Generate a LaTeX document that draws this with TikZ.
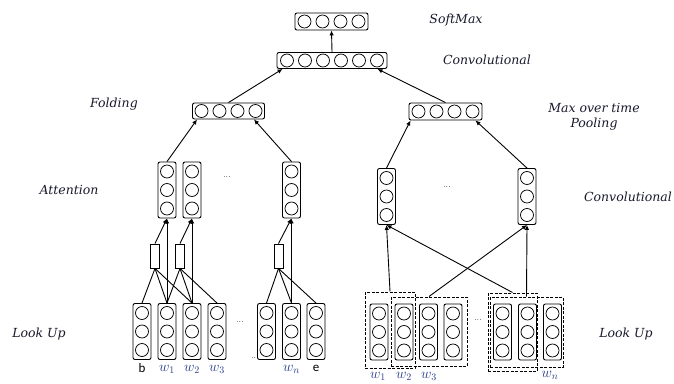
\documentclass[tikz,border=0pt]{standalone}
\usepackage{fontspec}
\usetikzlibrary{arrows.meta}
\newfontfamily\labfont{DejaVu Serif}
\newfontfamily\carlito{Carlito}
\definecolor{labcol}{RGB}{25,25,45}
\definecolor{wcol}{RGB}{35,55,135}
\begin{document}
\begin{tikzpicture}[x=1pt,y=-1pt, line width=0.9pt,
  vvec/.style={draw, rounded corners=2pt, minimum width=18pt, minimum height=56pt, inner sep=0pt,
    path picture={\foreach \k in {-1,0,1}{\draw[line width=0.75pt] ([yshift=\k*18.5pt]path picture bounding box.center) circle (6.5pt);}}},
  hvec/.style={draw, rounded corners=2pt, minimum height=16pt, inner sep=0pt,
    path picture={\foreach \k in {1,...,#1}{\draw[line width=0.75pt] ([xshift=(\k-(#1+1)/2)*18pt]path picture bounding box.center) circle (6.5pt);}}},
  att/.style={draw, minimum width=9pt, minimum height=24pt, inner sep=0pt},
  dbox/.style={draw, dash pattern=on 3pt off 1.5pt, line width=1pt, inner sep=0pt},
  lab/.style={font=\labfont\itshape\fontsize{12.5}{15}\selectfont, text=labcol, inner sep=0pt, align=center},
  wl/.style={text=wcol, inner sep=0pt, font=\fontsize{14}{16}\selectfont},
  sl/.style={inner sep=0pt, font=\carlito\fontsize{13}{15}\selectfont},
  dots/.style={inner sep=0pt, font=\small},
  arr/.style={-{Latex[length=5pt,width=4.5pt]}},
]
\useasboundingbox (0,0) rectangle (674,383);
% top
\node[hvec=4, minimum width=73pt, minimum height=17pt] (sm) at (331.5,21.5) {};
\node[hvec=6, minimum width=110pt] (cv) at (332,60.5) {};
\node[hvec=4, minimum width=72pt] (fd) at (228.5,111) {};
\node[hvec=4, minimum width=73pt, minimum height=17pt] (mp) at (445.5,111.5) {};
% attention vectors
\node[vvec] (a1) at (167,190) {};
\node[vvec] (a2) at (192,190) {};
\node[vvec] (an) at (291.5,190) {};
\node[att] (r1) at (155,256) {};
\node[att] (r2) at (180,256) {};
\node[att] (rn) at (278.5,256) {};
% left lookups
\node[vvec] (lb) at (142,331.5) {};
\node[vvec] (l1) at (167,331.5) {};
\node[vvec] (l2) at (192,331.5) {};
\node[vvec] (l3) at (217,331.5) {};
\node[vvec] (lm) at (266.5,331.5) {};
\node[vvec] (ln) at (291.5,331.5) {};
\node[vvec] (le) at (316,331.5) {};
% right conv
\node[vvec] (c1) at (386.5,196.5) {};
\node[vvec] (c2) at (527,196.5) {};
% right lookups
\node[vvec] (q1) at (379,332) {};
\node[vvec] (q2) at (404,332) {};
\node[vvec] (q3) at (428.5,332) {};
\node[vvec] (q4) at (453,332) {};
\node[vvec] (q5) at (502.5,332) {};
\node[vvec] (q6) at (527.5,332) {};
\node[vvec] (q7) at (552.5,332) {};
% dashed windows
\node[dbox, minimum width=50pt, minimum height=76pt] (d1) at (390,330) {};
\node[dbox, minimum width=76pt, minimum height=69pt] (d2) at (429,331.5) {};
\node[dbox, minimum width=49pt, minimum height=78pt] (d3) at (512.5,332) {};
\node[dbox, minimum width=73pt, minimum height=70pt] (d4) at (526.5,332) {};
% top connectors
\draw[arr] (cv.north) -- (sm.south);
\draw[arr] (fd.north) -- ([xshift=6pt]cv.south west);
\draw[arr] (mp.north) -- ([xshift=-10pt]cv.south east);
\draw[arr] (a1.north) -- ([xshift=5pt]fd.south west);
\draw[arr] (an.north) -- ([xshift=-11pt]fd.south east);
\draw[arr] (c1.north) -- ([xshift=2pt]mp.south west);
\draw[arr] (c2.north) -- ([xshift=-7pt]mp.south east);
% attention connectors
\draw[arr] (r1.north) -- (a1.south);
\draw[arr] (l1.north) -- (a1.south);
\draw[arr] (r2.north) -- (a2.south);
\draw[arr] (l2.north) -- (a2.south);
\draw[arr] (rn.north) -- (an.south);
\draw[arr] (ln.north) -- (an.south);
\draw (r1.south) -- (lb.north);
\draw (r1.south) -- (l1.north);
\draw (r1.south) -- (l2.north);
\draw (r2.south) -- (l1.north);
\draw (r2.south) -- (l2.north);
\draw (r2.south) -- (l3.north);
\draw (rn.south) -- (lm.north);
\draw (rn.south) -- (ln.north);
\draw (rn.south) -- (le.north);
% right connectors
\draw[arr] (d1.north) -- (c1.south);
\draw[arr] (d2.north) -- (c2.south);
\draw[arr] (d3.north) -- (c1.south);
\draw[arr] (d4.north) -- (c2.south);
% layer labels
\node[lab] (tsm) at (456,20) {SoftMax};
\node[lab] (tcv) at (487,60) {Convolutional};
\node[lab] (tfd) at (114,104) {Folding};
\node[lab] (tat) at (69,190) {Attention};
\node[lab] (tmp) at (594,117) {Max over time\\Pooling};
\node[lab] (tc2) at (628,197) {Convolutional};
\node[lab] (tl1) at (39,334) {Look Up};
\node[lab] (tl2) at (626,334) {Look Up};
% word labels
\node[sl] (tb) at (142,368) {b};
\node[wl] (tw1) at (167,369) {$w_1$};
\node[wl] (tw2) at (192,369) {$w_2$};
\node[wl] (tw3) at (217,369) {$w_3$};
\node[wl] (twn) at (291.5,369) {$w_n$};
\node[sl] (te) at (316,368) {e};
\node[wl] (sw1) at (378,376) {$w_1$};
\node[wl] (sw2) at (404,376) {$w_2$};
\node[wl] (sw3) at (429,376) {$w_3$};
\node[wl] (swn) at (550,375) {$w_n$};
% dots
\node[dots] (o1) at (227,177) {...};
\node[dots] (o2) at (240,322) {...};
\node[dots] (o3) at (255,358) {...};
\node[dots] (o4) at (447,187) {...};
\node[dots] (o5) at (478,320) {...};
\end{tikzpicture}
\end{document}
